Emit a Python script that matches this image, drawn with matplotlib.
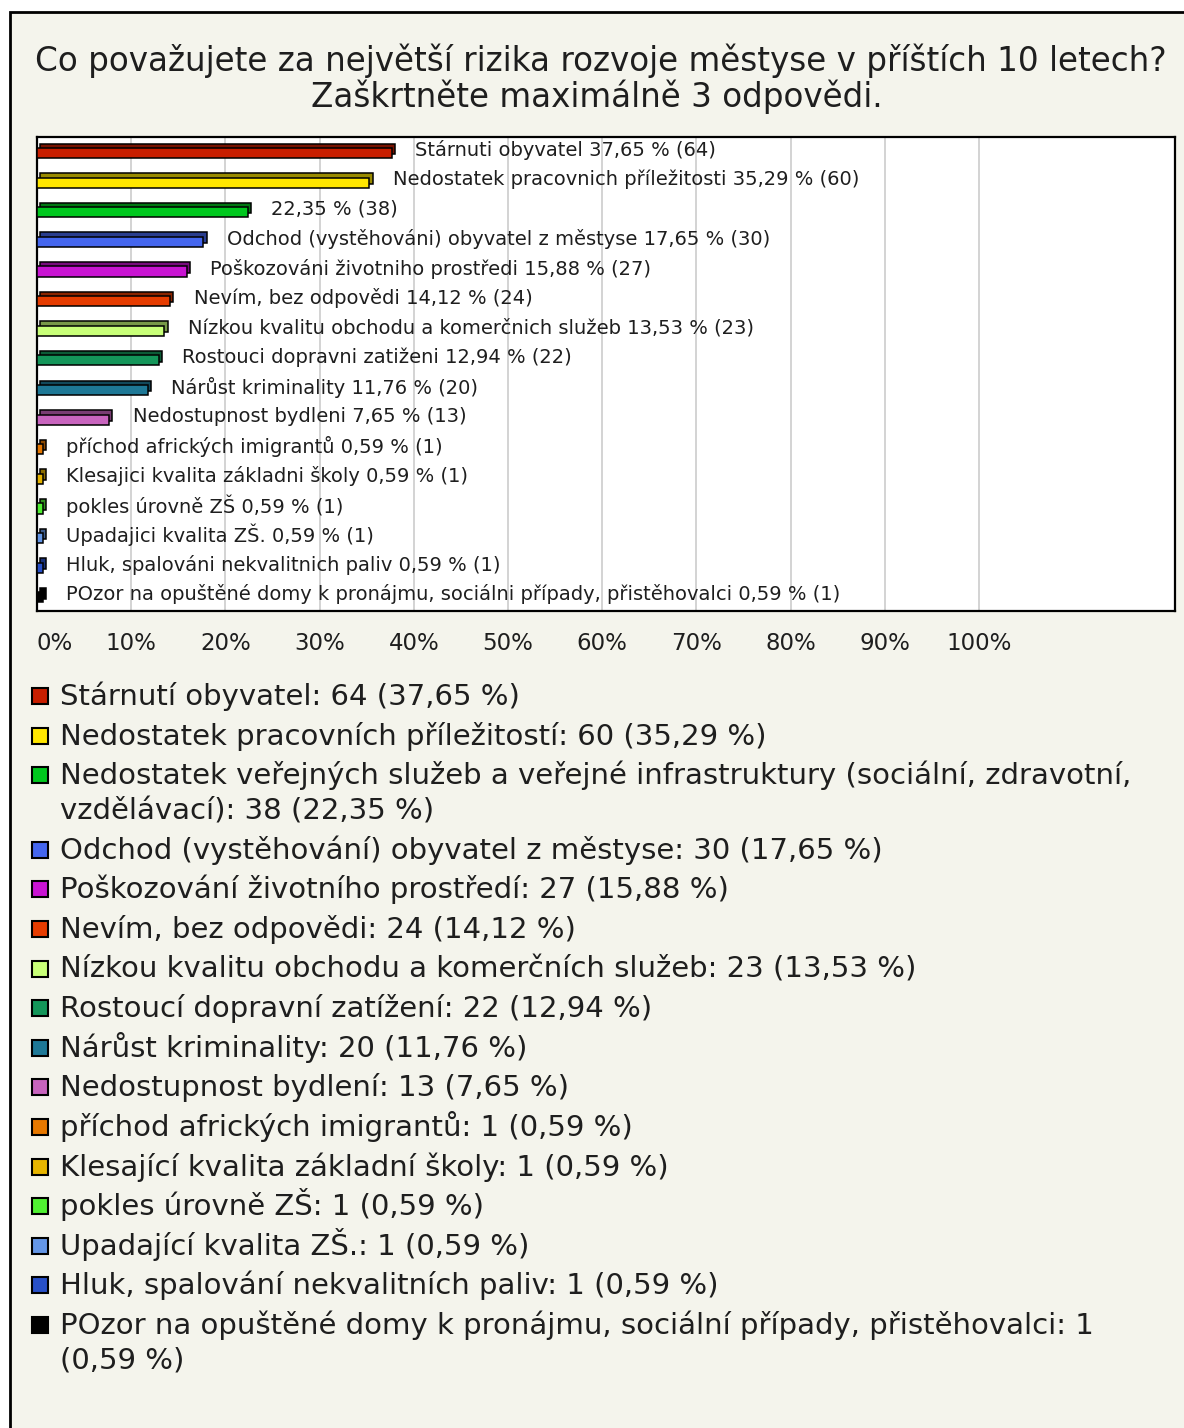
import matplotlib.pyplot as plt
import matplotlib.patches as mpatches
import numpy as np

plt.rcParams['font.family'] = ['DejaVu Sans']

W, H = 1184, 1428

title_lines = ["Co považujete za největší rizika rozvoje městyse v příštích 10 letech?",
               "Zaškrtněte maximálně 3 odpovědi."]

# bar labels as drawn next to the bars
bar_names = [
    "Stárnuti obyvatel",
    "Nedostatek pracovnich příležitosti",
    "",
    "Odchod (vystěhováni) obyvatel z městyse",
    "Poškozováni životniho prostředi",
    "Nevím, bez odpovědi",
    "Nízkou kvalitu obchodu a komerčnich služeb",
    "Rostouci dopravni zatiženi",
    "Nárůst kriminality",
    "Nedostupnost bydleni",
    "příchod afrických imigrantů",
    "Klesajici kvalita základni školy",
    "pokles úrovně ZŠ",
    "Upadajici kvalita ZŠ.",
    "Hluk, spalováni nekvalitnich paliv",
    "POzor na opuštěné domy k pronájmu, sociálni případy, přistěhovalci",
]

legend_names = [
    "Stárnutí obyvatel",
    "Nedostatek pracovních příležitostí",
    "Nedostatek veřejných služeb a veřejné infrastruktury (sociální, zdravotní,|vzdělávací)",
    "Odchod (vystěhování) obyvatel z městyse",
    "Poškozování životního prostředí",
    "Nevím, bez odpovědi",
    "Nízkou kvalitu obchodu a komerčních služeb",
    "Rostoucí dopravní zatížení",
    "Nárůst kriminality",
    "Nedostupnost bydlení",
    "příchod afrických imigrantů",
    "Klesající kvalita základní školy",
    "pokles úrovně ZŠ",
    "Upadající kvalita ZŠ.",
    "Hluk, spalování nekvalitních paliv",
    "POzor na opuštěné domy k pronájmu, sociální případy, přistěhovalci",
]

counts = [64, 60, 38, 30, 27, 24, 23, 22, 20, 13, 1, 1, 1, 1, 1, 1]
percents = [37.65, 35.29, 22.35, 17.65, 15.88, 14.12, 13.53, 12.94, 11.76, 7.65,
            0.59, 0.59, 0.59, 0.59, 0.59, 0.59]

colors = ["#c81e00", "#ffe600", "#00c81e", "#4466ee", "#c814d2", "#e63c00",
          "#c8ff78", "#14965a", "#1e7896", "#c864be", "#e67800", "#e6b400",
          "#50f032", "#6496e6", "#2850c8", "#000000"]

ticks = list(range(0, 101, 10))
tick_labels = [f"{t}%" for t in ticks]


def fmt(p):
    return f"{p:.2f}".replace(".", ",")


def ftext(xpix, ypix, s, **kw):
    # place text in pixel coords measured from top-left
    return fig.text(xpix / W, 1 - ypix / H, s, **kw)


fig = plt.figure(figsize=(W / 100, H / 100), dpi=100, facecolor="white")

# beige panel with black frame (runs off right and bottom edges)
panel = mpatches.Rectangle((10 / W, -0.1), 1.2, 1.1 - 12 / H, transform=fig.transFigure,
                           facecolor="#f4f4ec", edgecolor="black", lw=2, zorder=-10)
fig.patches.append(panel)

ftext(601, 71, title_lines[0], ha="center", va="baseline", fontsize=23.5, color="#1e1e1e")
ftext(597, 107, title_lines[1], ha="center", va="baseline", fontsize=23.5, color="#1e1e1e")

ax = fig.add_axes([37 / W, 1 - 611 / H, (1175 - 37) / W, (611 - 137) / H], zorder=5)
ax.set_facecolor("white")
n = len(percents)
y = np.arange(n)
for i in range(n):
    c = np.array(plt.matplotlib.colors.to_rgb(colors[i]))
    dark = c * 0.6
    ax.barh(y[i] - 0.1, percents[i], left=0.35, height=0.36, color=dark,
            edgecolor="black", lw=1.1, zorder=3)
    ax.barh(y[i] + 0.04, percents[i], left=0, height=0.34, color=c,
            edgecolor="black", lw=1.1, zorder=4)
    lbl = f"{fmt(percents[i])} % ({counts[i]})"
    if bar_names[i]:
        lbl = bar_names[i] + " " + lbl
    ax.text(percents[i] + 2.5, y[i] - 0.06, lbl, va="center", ha="left",
            fontsize=14, color="#1e1e1e", zorder=5)

ax.set_xlim(0, 120.8)
ax.set_ylim(n - 0.5, -0.5)
ax.set_yticks([])
for t in ticks[1:]:
    ax.axvline(t, color="#d0d0d0", lw=1.3, zorder=1)
ax.set_xticks(ticks)
ax.set_xticklabels(tick_labels, fontsize=16.5, color="#1e1e1e")
ax.get_xticklabels()[0].set_ha("left")
ax.tick_params(axis="x", length=0, pad=15)
for s in ax.spines.values():
    s.set_color("black")
    s.set_linewidth(1.6)

# legend block below the chart
ypix = 696
for i in range(n):
    fy = 1 - ypix / H
    sq = mpatches.Rectangle((32 / W, fy - 8 / H), 16 / W, 16 / H, transform=fig.transFigure,
                            facecolor=colors[i], edgecolor="black", lw=1.5)
    fig.patches.append(sq)
    tail = f"{counts[i]} ({fmt(percents[i])} %)"
    if i == n - 1:
        lines = [f"{legend_names[i]}: {counts[i]}", f"({fmt(percents[i])} %)"]
    else:
        lines = (f"{legend_names[i]}: {tail}").split("|")
    for k, ln in enumerate(lines):
        ftext(60, ypix + 9 + 35 * k, ln, ha="left", va="baseline", fontsize=21,
              color="#1e1e1e")
    ypix += 39.6 + 35 * (len(lines) - 1)

fig.savefig("out.png", dpi=100, facecolor="white")
